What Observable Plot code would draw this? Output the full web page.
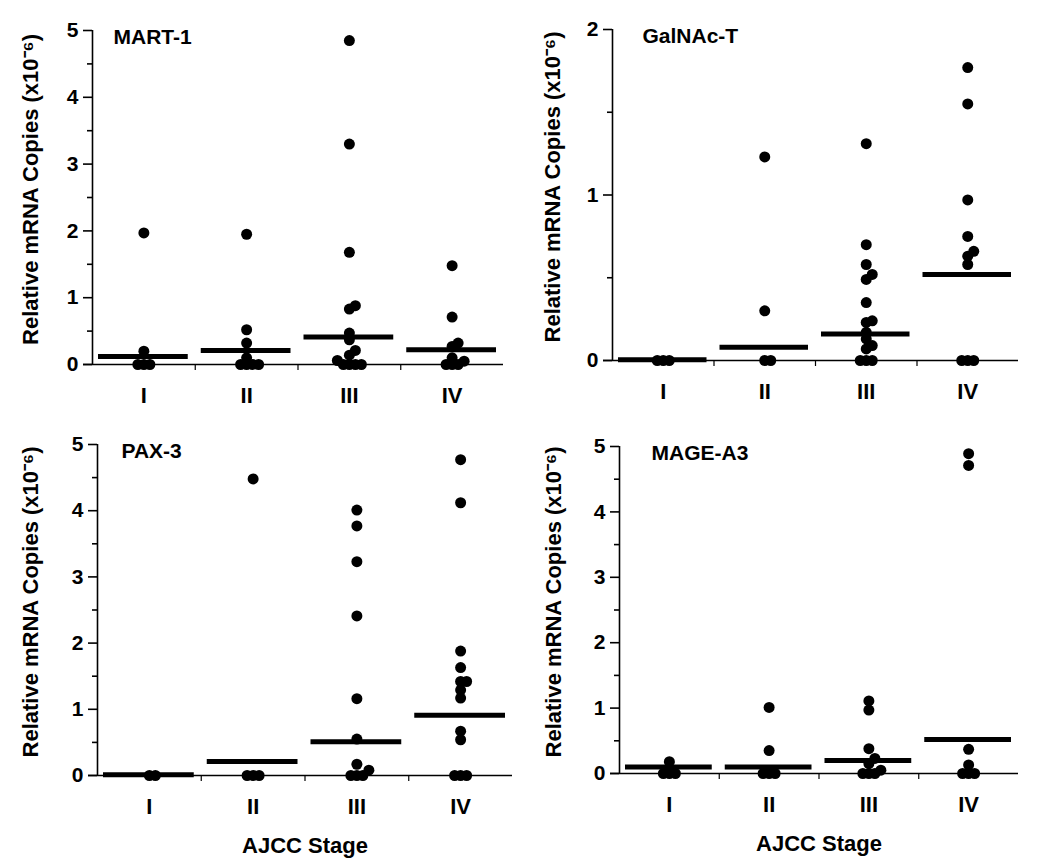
<!DOCTYPE html>
<html>
<head>
<meta charset="utf-8">
<script src="https://cdn.jsdelivr.net/npm/d3@7"></script>
<script src="https://cdn.jsdelivr.net/npm/@observablehq/plot@0.6"></script>
<style>
  html, body { margin: 0; padding: 0; background: #fff; }
  #chart { position: relative; width: 1050px; height: 867px; background: #fff; }
  #chart > div { position: absolute; }
</style>
</head>
<body>
<div id="chart"></div>
<script>
// ---- Data (values in x10^-6 relative mRNA copies) ----
const stages = ["I", "II", "III", "IV"];
const genes = ["MART-1", "GalNAc-T", "PAX-3", "MAGE-A3"];
const yTitle = "Relative mRNA Copies (x10⁻⁶)";
const xTitle = "AJCC Stage";

const mart1 = [
  [1.97, 0.2, 0, 0, 0],
  [1.95, 0.52, 0.32, 0.1, 0, 0, 0, 0],
  [4.85, 3.3, 1.68, 0.88, 0.83, 0.47, 0.37, 0.21, 0.14, 0.06, 0, 0, 0, 0],
  [1.48, 0.71, 0.32, 0.27, 0.1, 0.05, 0, 0, 0]
];
const mart1Line = [0.12, 0.21, 0.41, 0.22];

const galnac = [
  [0, 0, 0],
  [1.23, 0.3, 0, 0],
  [1.31, 0.7, 0.58, 0.52, 0.49, 0.35, 0.24, 0.23, 0.17, 0.13, 0.09, 0.07, 0, 0, 0],
  [1.77, 1.55, 0.97, 0.75, 0.66, 0.63, 0.58, 0, 0, 0]
];
const galnacLine = [0.005, 0.08, 0.16, 0.52];

const pax3 = [
  [0, 0],
  [4.48, 0, 0, 0],
  [4.01, 3.77, 3.23, 2.41, 1.16, 0.55, 0.17, 0.08, 0, 0, 0],
  [4.77, 4.12, 1.88, 1.63, 1.42, 1.42, 1.29, 1.17, 0.67, 0.54, 0, 0, 0]
];
const pax3Line = [0.01, 0.21, 0.51, 0.91];

const mage = [
  [0.18, 0, 0, 0],
  [1.01, 0.35, 0, 0, 0],
  [1.11, 0.97, 0.38, 0.23, 0.15, 0.05, 0, 0, 0],
  [4.89, 4.71, 0.37, 0.13, 0, 0, 0]
];
const mageLine = [0.1, 0.1, 0.2, 0.52];

const ticks5 = [0, 1, 2, 3, 4, 5];
const minor5 = [0.5, 1.5, 2.5, 3.5, 4.5];
const ticks2 = [0, 1, 2];
const minor2 = [0.5, 1.5];

// ---- Layout ----
const FONT = "'Liberation Sans', Arial, Helvetica, sans-serif";
const panels = [
  {name: genes[0], vals: mart1, line: mart1Line, yMax: 5, ticks: ticks5, minor: minor5,
   left: 0, top: 0, width: 520, height: 420, mt: 30, mr: 17, mb: 56, ml: 92, titleDx: -62, labelDx: 21, xlabel: false},
  {name: genes[1], vals: galnac, line: galnacLine, yMax: 2, ticks: ticks2, minor: minor2,
   left: 520, top: 0, width: 530, height: 420, mt: 29, mr: 32, mb: 60, ml: 92, titleDx: -60, labelDx: 30, xlabel: false},
  {name: genes[2], vals: pax3, line: pax3Line, yMax: 5, ticks: ticks5, minor: minor5,
   left: 0, top: 420, width: 520, height: 447, mt: 24, mr: 8, mb: 92, ml: 97, titleDx: -67, labelDx: 24, xlabel: true},
  {name: genes[3], vals: mage, line: mageLine, yMax: 5, ticks: ticks5, minor: minor5,
   left: 520, top: 420, width: 530, height: 447, mt: 26, mr: 32, mb: 94, ml: 99, titleDx: -66, labelDx: 32, xlabel: true}
];

// simple deterministic dodge so overlapping values spread sideways within a stage
function spread(values, stageIndex, pxPerX, pxPerY) {
  const items = values.map(v => ({v})).sort((a, b) => a.v - b.v);
  const placed = [];
  const step = 6, minD = 6;
  for (const it of items) {
    const py = it.v * pxPerY;
    for (let k = 0; k < 50; k++) {
      const off = k === 0 ? 0 : (k % 2 ? 1 : -1) * Math.ceil(k / 2) * step;
      if (placed.every(p => Math.hypot(p.ox - off, p.py - py) >= minD - 1e-9)) {
        placed.push({ox: off, py});
        it.x = stageIndex + off / pxPerX;
        break;
      }
    }
    it.stage = stages[stageIndex - 1];
  }
  return items;
}

const root = document.getElementById("chart");
for (const p of panels) {
  const innerW = p.width - p.ml - p.mr;
  const innerH = p.height - p.mt - p.mb;
  const pxPerX = innerW / 4, pxPerY = innerH / p.yMax;
  const points = p.vals.flatMap((vals, i) => spread(vals, i + 1, pxPerX, pxPerY));
  const lines = p.line.map((v, i) => ({i: i + 1, v}));

  const marks = [
    Plot.ruleX([0.5], {y1: 0, y2: p.yMax, stroke: "black", strokeWidth: 1.6}),
    Plot.ruleY([0], {x1: 0.5, x2: 4.5, insetLeft: -9, stroke: "black", strokeWidth: 1.6}),
    Plot.axisY({ticks: p.ticks, tickSize: 9, tickPadding: 5, strokeWidth: 1.6, fontSize: 21,
      tickFormat: d => String(d), label: null}),
    Plot.axisY({ticks: p.minor, tickSize: 5, strokeWidth: 1.6, tickFormat: () => "", label: null}),
    Plot.axisX({ticks: [1, 2, 3, 4], tickSize: 0, tickPadding: 23, fontSize: 22,
      tickFormat: d => stages[d - 1], label: null}),
    Plot.axisX({ticks: [1.5, 2.5, 3.5], tickSize: 6, strokeWidth: 1.2, tickFormat: () => "", label: null}),
    Plot.ruleY(lines, {y: "v", x1: d => d.i - 0.5, x2: d => d.i + 0.5, insetLeft: 6, insetRight: 7,
      stroke: "black", strokeWidth: 5}),
    Plot.dot(points, {x: "x", y: "v", r: 5.5, fill: "black", stroke: "none"}),
    Plot.text([p.name], {frameAnchor: "top-left", dx: p.labelDx, dy: -1, textAnchor: "start",
      lineAnchor: "top", fontSize: 21, fontWeight: "bold", fill: "black"}),
    Plot.text([yTitle], {frameAnchor: "left", rotate: -90, dx: p.titleDx, dy: -8,
      textAnchor: "middle", lineAnchor: "middle",
      fontSize: 22, fontWeight: "bold", fill: "black"})
  ];
  if (p.xlabel) {
    marks.push(Plot.text([xTitle], {frameAnchor: "bottom", dy: 62, lineAnchor: "top", textAnchor: "middle",
      fontSize: 22, fontWeight: "bold", fill: "black"}));
  }

  const chart = Plot.plot({
    width: p.width,
    height: p.height,
    marginTop: p.mt, marginRight: p.mr, marginBottom: p.mb, marginLeft: p.ml,
    x: {domain: [0.5, 4.5]},
    y: {domain: [0, p.yMax]},
    style: {fontFamily: FONT, fontWeight: "bold", color: "black", background: "white", overflow: "visible"},
    marks
  });
  const wrap = document.createElement("div");
  wrap.style.left = p.left + "px";
  wrap.style.top = p.top + "px";
  wrap.appendChild(chart);
  root.appendChild(wrap);
}
</script>
</body>
</html>
